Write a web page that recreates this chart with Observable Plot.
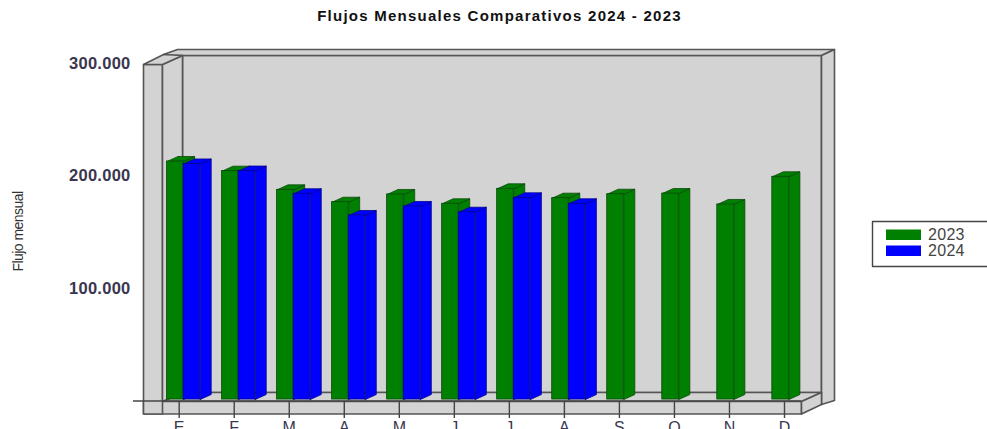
<!DOCTYPE html>
<html><head><meta charset="utf-8">
<script src="https://cdn.jsdelivr.net/npm/d3@7"></script>
<script src="https://cdn.jsdelivr.net/npm/@observablehq/plot@0.6"></script>
<style>html,body{margin:0;padding:0;background:#fff;overflow:hidden}svg{display:block;overflow:hidden}
.chart-title text{letter-spacing:1.25px}
.y-ticks text{letter-spacing:0.25px}
.legend-text text{letter-spacing:0.3px}
.y-title text{letter-spacing:-0.55px}
</style>
</head><body><div id="chart"></div>
<script>
const months = ["E","F","M","A","M","J","J","A","S","O","N","D"];
const flow2023 = [212900,204300,187700,176700,183600,175300,188600,180300,183800,184400,174700,199300];
const flow2024 = [210700,204400,184200,164900,172900,167800,180600,175300];
const yTicks = [100000,200000,300000];
const chartTitle = "Flujos Mensuales Comparativos 2024 - 2023";
const yTitle = "Flujo mensual";
const seriesNames = ["2023","2024"];
const seriesColors = ["#008000","#0000ff"];
const seriesEdges = ["#0a4a0a","#00008b"];

// scale anchors
const xRange=[178.7,784], yRange=[400.5,63];
const X=p=>(p-xRange[0])/(xRange[1]-xRange[0])*11;
const Y=p=>(yRange[0]-p)/(yRange[0]-yRange[1])*300000;
const poly=(id,fill,pts)=>[...pts,pts[0]].map(([a,b])=>({id,fill,x:X(a),y:Y(b)}));

const wall="#d3d3d3";
const frame=[
  poly("back",wall,[[182,55],[821,55],[821,392],[182,392]]),
  poly("top",wall,[[163,54],[177,49],[834,49],[821,55],[163,55]]),
  poly("right",wall,[[821,55],[834,49],[834,400],[821,404]]),
  poly("floor",wall,[[162,401],[182,392],[821,392],[801,401]]),
  poly("floorfront",wall,[[143,401],[801,401],[801,413.5],[143,413.5]]),
  poly("floorside",wall,[[801,401],[821,392],[821,404],[801,413.5]]),
  poly("leftouter",wall,[[143,64],[162,64],[162,413.5],[143,413.5]]),
  poly("leftside",wall,[[162,64],[182,55],[182,392],[162,401]]),
  poly("lefttop",wall,[[143,64],[163,54],[182,55],[162,64]])
].flat();

const barW=16.6/55.03, gap=12.2/55.03, depthX=11/55.03, depthY=5/1.125*1000, base=1300;
const rows=[
  ...flow2023.map((v,i)=>({i,v,s:0,x1:i-gap,x2:i-gap+barW})),
  ...flow2024.map((v,i)=>({i,v,s:1,x1:i-gap+barW,x2:i-gap+2*barW}))
];
const faces=rows.flatMap(r=>{
  const f=seriesColors[r.s], e=seriesEdges[r.s], k=`${r.s}-${r.i}`;
  const close=a=>[...a,a[0]];
  return [
    ...close([[r.x2,base],[r.x2+depthX,base+depthY],[r.x2+depthX,r.v+depthY],[r.x2,r.v]]).map(([x,y])=>({id:"s"+k,fill:f,edge:e,x,y})),
    ...close([[r.x1,r.v],[r.x2,r.v],[r.x2+depthX,r.v+depthY],[r.x1+depthX,r.v+depthY]]).map(([x,y])=>({id:"t"+k,fill:f,edge:e,x,y}))
  ];
});

const fmt=v=>d3.format(",")(v).replace(/,/g,".");
const textFill="#3a3650";
const legendBox=poly("legend","#fff",[[872,221],[990,221],[990,266],[872,266]]);

const plot=Plot.plot({
  width:987,height:429,
  marginLeft:132,marginRight:0,marginTop:0,marginBottom:28,
  style:{fontFamily:"'Liberation Sans',Arial,sans-serif",background:"#fff",overflow:"hidden"},
  x:{type:"linear",domain:[0,11],range:xRange},
  y:{type:"linear",domain:[0,300000],range:yRange},
  marks:[
    Plot.line(frame,{x:"x",y:"y",z:"id",fill:"fill",stroke:"#555",strokeWidth:1.6,curve:"linear"}),
    Plot.ruleY([0],{x1:X(133),x2:X(801),stroke:"#444",strokeWidth:1.4}),
    Plot.axisX({ticks:d3.range(12),tickFormat:i=>months[i],tickSize:17,tickPadding:3,stroke:"#444",strokeWidth:1.4,fontSize:16,fill:textFill,label:null,anchor:"bottom"}),
    Plot.axisY({ticks:yTicks,tickFormat:fmt,tickSize:0,tickPadding:2,fontSize:16.5,fontWeight:"bold",fill:textFill,label:null,anchor:"left",className:"y-ticks"}),
    Plot.line(faces,{x:"x",y:"y",z:"id",fill:"fill",stroke:"edge",strokeWidth:0.8,curve:"linear"}),
    Plot.rect(rows,{x1:"x1",x2:"x2",y1:base,y2:"v",fill:d=>seriesColors[d.s],stroke:d=>seriesEdges[d.s],strokeWidth:0.8}),
    Plot.text([chartTitle],{x:X(499),y:Y(16),text:d=>d,fontSize:15,fontWeight:"bold",fill:"#111",textAnchor:"middle",className:"chart-title"}),
    Plot.text([yTitle],{x:X(18),y:Y(231),text:d=>d,rotate:-90,fontSize:14,fill:"#333",textAnchor:"middle",className:"y-title"}),
    Plot.line(legendBox,{x:"x",y:"y",z:"id",fill:"fill",stroke:"#444",strokeWidth:1.4}),
    Plot.rect(seriesNames,{x1:X(886),x2:X(921),y1:(d,i)=>Y(229.5+i*16),y2:(d,i)=>Y(240+i*16),fill:(d,i)=>seriesColors[i]}),
    Plot.text(seriesNames,{x:X(927.5),y:(d,i)=>Y(234.5+i*16),text:d=>d,fontSize:16,fill:"#444",textAnchor:"start",className:"legend-text"})
  ]
});
document.getElementById("chart").append(plot);
</script></body></html>
